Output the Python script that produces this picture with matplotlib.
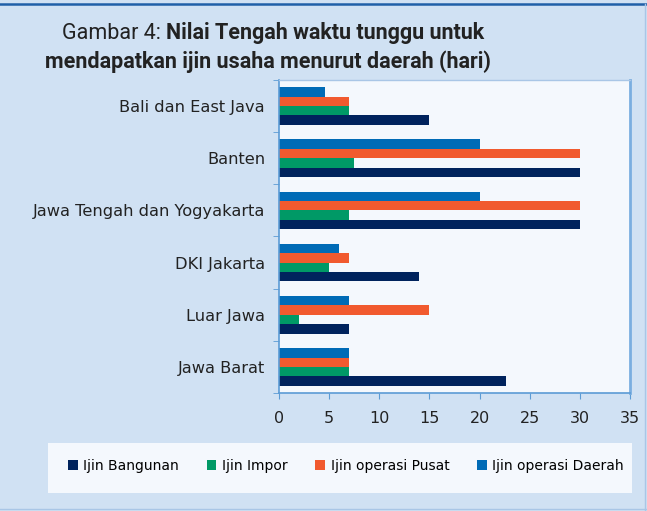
import matplotlib
matplotlib.use('Agg')
import matplotlib.pyplot as plt
import numpy as np

# data, bottom to top
regions = ['Jawa Barat', 'Luar Jawa', 'DKI Jakarta', 'Jawa Tengah dan Yogyakarta', 'Banten', 'Bali dan East Java']
bangunan = [22.6, 7, 14, 30, 30, 15]
impor = [7, 2, 5, 7, 7.5, 7]
pusat = [7, 15, 7, 30, 30, 7]
daerah = [7, 7, 6, 20, 20, 4.6]
series_names = ['Ijin Bangunan', 'Ijin Impor', 'Ijin operasi Pusat', 'Ijin operasi Daerah']
colors = ['#00235d', '#009966', '#f15a2f', '#006bb6']

bg = '#d0e1f3'
edge = '#5b9bd5'
tfont = ['Roboto', 'DejaVu Sans']

fig = plt.figure(figsize=(6.47, 5.11), dpi=100, facecolor=bg)

# thin frame lines of the panel
fig.add_artist(plt.Line2D([0, 1], [1 - 4/511, 1 - 4/511], color='#1f5fa8', lw=1.8))
fig.add_artist(plt.Line2D([0.997, 0.997], [0, 1 - 4/511], color='#a9c6e6', lw=1))
fig.add_artist(plt.Line2D([0, 1], [0.004, 0.004], color='#a9c6e6', lw=1))

ax = fig.add_axes([279/647, 1 - 393/511, 351/647, 313/511])
ax.set_facecolor('#f4f8fd')

y = np.arange(len(regions))
h = 0.18
for i, (vals, c, name) in enumerate(zip([bangunan, impor, pusat, daerah], colors, series_names)):
    ax.barh(y - 1.5*h + i*h, vals, height=h, color=c, label=name)

ax.set_xlim(0, 35)
ax.set_ylim(-0.5, 5.5)
ax.set_xticks(range(0, 36, 5))
ax.set_yticks(y)
ax.set_yticklabels(regions, fontsize=11.7, color='#222222')
ax.set_yticks(np.arange(-0.5, 6, 1), minor=True)
ax.tick_params(axis='y', which='major', length=0, pad=10)
ax.tick_params(axis='y', which='minor', length=4, color=edge, direction='out')
ax.tick_params(axis='x', length=4, color=edge, direction='out', labelsize=11.5, labelcolor='#222222', pad=9)
for s in ['left', 'bottom']:
    ax.spines[s].set_color(edge)
    ax.spines[s].set_linewidth(1.2)
ax.spines['right'].set_color('#7aaee0')
ax.spines['right'].set_linewidth(2)
ax.spines['top'].set_color('#a9c6e6')
ax.spines['top'].set_linewidth(1)

# title: normal prefix, bold rest
t1 = fig.text(62/647, 1 - 39/511, 'Gambar 4: ', fontsize=15.5, family=tfont, color='#222222', va='baseline')
ax.annotate('Nilai Tengah waktu tunggu untuk', xy=(1, 0), xycoords=t1, va='bottom', ha='left',
            fontsize=15.5, fontweight='bold', family=tfont, color='#222222', annotation_clip=False)
fig.text(268/647, 1 - 68/511, 'mendapatkan ijin usaha menurut daerah (hari)', fontsize=15.5, fontweight='bold',
         family=tfont, color='#222222', ha='center', va='baseline')

# legend box
fig.patches.append(plt.Rectangle((48/647, 1 - 493/511), 584/647, 50/511, transform=fig.transFigure,
                                 facecolor='#f4f8fd', edgecolor='none'))
handles, labels = ax.get_legend_handles_labels()
fig.legend(handles, labels, loc='center', bbox_to_anchor=(346/647, 1 - 466/511), ncol=4, frameon=False,
           fontsize=10, handlelength=0.7, handleheight=0.7, handletextpad=0.4, columnspacing=2.0)

fig.savefig('out.png', dpi=100, facecolor=bg)
